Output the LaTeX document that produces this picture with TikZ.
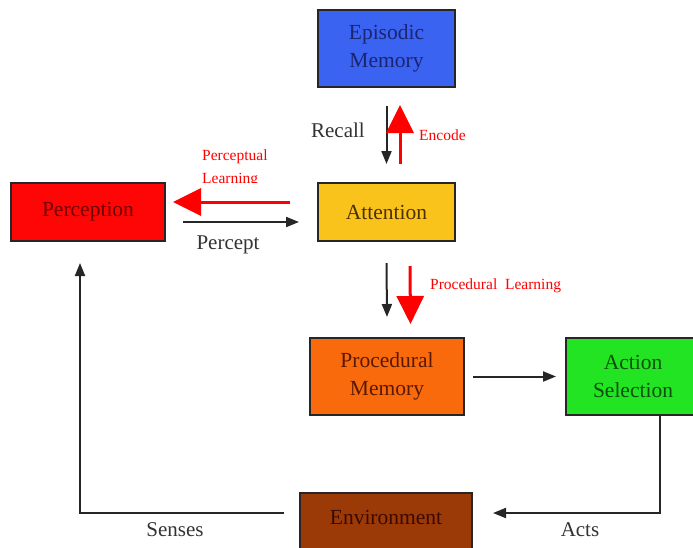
\documentclass[tikz,border=0pt]{standalone}
\usepackage{fontspec}
\setmainfont{Liberation Serif}
\usetikzlibrary{arrows.meta,calc}
\definecolor{epfill}{HTML}{3B63F2}
\definecolor{eptext}{HTML}{1A2470}
\definecolor{atfill}{HTML}{FAC31C}
\definecolor{attext}{HTML}{4A3200}
\definecolor{pcfill}{HTML}{FF0606}
\definecolor{pctext}{HTML}{700000}
\definecolor{pmfill}{HTML}{F86A0C}
\definecolor{pmtext}{HTML}{5A1800}
\definecolor{asfill}{HTML}{22E422}
\definecolor{astext}{HTML}{0A500A}
\definecolor{envfill}{HTML}{9B3A07}
\definecolor{envtext}{HTML}{3A0A00}
\definecolor{edge}{HTML}{262626}
\tikzset{
  box/.style={draw=edge, line width=2pt, rectangle, inner sep=0pt, align=center,
    font=\fontsize{21.5}{28}\selectfont},
  lbl/.style={font=\fontsize{21}{23}\selectfont, text=black!80, inner sep=0pt},
  redlbl/.style={font=\fontsize{15.5}{17}\selectfont, text=red, inner sep=0pt},
  blk/.style={draw=black!85, line width=2pt, -{Triangle[length=13pt,width=10pt]}},
  redarrow/.style={draw=red, line width=3pt, -{Triangle[length=28pt,width=27pt]}},
}
\begin{document}
\begin{tikzpicture}[x=1pt,y=-1pt]
\useasboundingbox (0,0) rectangle (693,547);
% boxes
\node[box, fill=epfill, text=eptext, minimum width=137, minimum height=77] (em) at (386.5,48.5) {Episodic\\Memory};
\node[box, fill=atfill, text=attext, minimum width=137, minimum height=58] (att) at (386.5,212) {Attention};
\node[box, fill=pcfill, text=pctext, minimum width=154, minimum height=58] (perc) at (88,212) {Perception};
\node[box, fill=pmfill, text=pmtext, minimum width=154, minimum height=77] (pm) at (387,376.5) {Procedural\\Memory};
\node[box, fill=asfill, text=astext, minimum width=134, minimum height=77] (as) at (633,376.5) {Action\\Selection};
\node[box, fill=envfill, minimum width=172, minimum height=64, anchor=north] (env) at (386,492) {};
\node[font=\fontsize{21.5}{23}\selectfont, text=envtext, inner sep=0pt] (envtxt) at (386,517) {Environment};
\coordinate (envy) at (386,513);
% episodic memory <-> attention
\draw[blk] ($(em.south)+(0,18)$) -- ($(att.north)+(0,-18)$);
\draw[redarrow] ($(att.north)+(13.5,-18)$) -- ($(em.south)+(13.5,17)$);
\node[lbl, anchor=east] (recall) at (365,130) {Recall};
\node[redlbl, anchor=west] (encode) at (419,135) {Encode};
% attention <-> perception
\draw[redarrow] ($(att.west)+(-27,-10)$) -- ($(perc.east)+(7,-10)$);
\draw[blk] ($(perc.east)+(17,10)$) -- ($(att.west)+(-18,10)$);
\node[redlbl, anchor=west] (pl1) at (202,157) {Perceptual};
\begin{scope}
  \clip (190,168) rectangle (300,182.5);
  \node[redlbl, anchor=west] (pl2) at (202,180) {Learning};
\end{scope}
\node[lbl] (percept) at (228,245) {Percept};
% attention -> procedural memory
\draw[blk] ($(att.south)+(0,21)$) -- ($(pm.north)+(0,-20)$);
\draw[redarrow] ($(att.south)+(23.5,24)$) -- ($(pm.north)+(23.5,-13)$);
\node[redlbl, anchor=west] (procl) at (430,286) {Procedural\ \ Learning};
% procedural memory -> action selection
\draw[blk] ($(pm.east)+(8,0)$) -- ($(as.west)+(-9,0)$);
% action selection -> environment -> perception
\draw[blk] ($(as.south)+(27,0)$) |- ($(env.east|-envy)+(20,0)$);
\draw[blk] ($(env.west|-envy)+(-15,0)$) -| ($(perc.south)+(-8,21)$);
\node[lbl] (senses) at (175,530) {Senses};
\node[lbl] (acts) at (580,530) {Acts};
\end{tikzpicture}
\end{document}
